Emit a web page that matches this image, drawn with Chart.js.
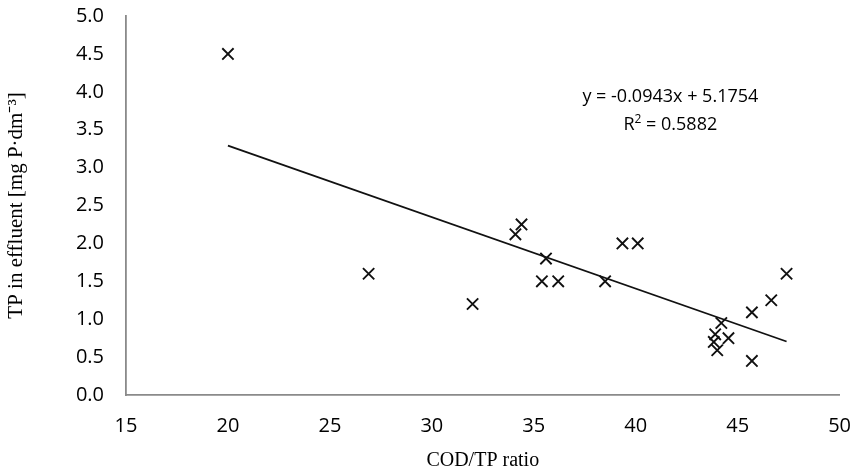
<!DOCTYPE html>
<html>
<head>
<meta charset="utf-8">
<script src="https://cdn.jsdelivr.net/npm/chart.js@4/dist/chart.umd.min.js"></script>
<style>
  html, body { margin: 0; padding: 0; background: #fff; }
  #wrap { width: 863px; height: 474px; position: relative; }
</style>
</head>
<body>
<div id="wrap"><canvas id="c" width="863" height="474"></canvas></div>
<script>
// COD/TP ratio against total phosphorus in effluent
const codTpRatio = [20.0, 26.9, 32.0, 34.1, 34.4, 35.6, 35.4, 36.2, 38.5, 39.35, 40.1,
                    44.2, 44.55, 43.9, 43.83, 44.0, 45.7, 45.7, 46.65, 47.4];
const tpEffluent = [4.50, 1.60, 1.20, 2.12, 2.25, 1.80, 1.50, 1.50, 1.50, 2.00, 2.00,
                    0.95, 0.75, 0.80, 0.70, 0.59, 0.45, 1.09, 1.25, 1.60];

// Linear trend y = a*x + b
const trendSlope = -0.0943;
const trendIntercept = 5.1754;
const trendR2 = 0.5882;
const trendRange = [20.0, 47.4];

const xTicks = [15, 20, 25, 30, 35, 40, 45, 50];
const yTicks = [0, 0.5, 1, 1.5, 2, 2.5, 3, 3.5, 4, 4.5, 5];

const xTitle = 'COD/TP ratio';
const yTitle = 'TP in effluent [mg P\u00B7dm\u207B\u00B3]';
const eqLabel = 'y = ' + trendSlope.toFixed(4) + 'x + ' + trendIntercept.toFixed(4);
const r2Label = '= ' + trendR2.toFixed(4);
const eqAnchor = { x: 41.7, y: 3.93 };
const r2Anchor = { x: 41.7, y: 3.56 };

const points = codTpRatio.map((x, i) => ({ x, y: tpEffluent[i] }));
const trendPoints = trendRange.map(x => ({ x, y: trendSlope * x + trendIntercept }));

const axisGrey = '#8a8a8a';
const tickFont = { family: 'Open Sans', size: 20 };

// Equation and R² written next to the trend line
const equationLabel = {
  id: 'equationLabel',
  afterDatasetsDraw(chart) {
    const { ctx, scales } = chart;
    ctx.save();
    ctx.fillStyle = '#000';
    ctx.font = '18px "Open Sans"';
    ctx.textAlign = 'center';
    ctx.textBaseline = 'middle';
    ctx.fillText(eqLabel, scales.x.getPixelForValue(eqAnchor.x), scales.y.getPixelForValue(eqAnchor.y));
    // "R²" with a raised small 2, then the value
    const cx = scales.x.getPixelForValue(r2Anchor.x);
    const cy = scales.y.getPixelForValue(r2Anchor.y);
    const rW = ctx.measureText('R').width;
    ctx.font = '12px "Open Sans"';
    const sW = ctx.measureText('2').width;
    ctx.font = '18px "Open Sans"';
    const vW = ctx.measureText(' ' + r2Label).width;
    const total = rW + sW + vW;
    const x0 = cx - total / 2;
    ctx.textAlign = 'left';
    ctx.fillText('R', x0, cy);
    ctx.font = '12px "Open Sans"';
    ctx.fillText('2', x0 + rW, cy - 6);
    ctx.font = '18px "Open Sans"';
    ctx.fillText(' ' + r2Label, x0 + rW + sW, cy);
    ctx.restore();
  }
};

new Chart(document.getElementById('c'), {
  type: 'scatter',
  data: {
    datasets: [
      {
        label: 'TP',
        data: points,
        pointStyle: 'crossRot',
        pointRadius: 8,
        pointHoverRadius: 8,
        pointBorderWidth: 1.9,
        borderColor: '#111',
        backgroundColor: '#111',
        showLine: false
      },
      {
        label: 'Linear',
        type: 'line',
        data: trendPoints,
        borderColor: '#111',
        borderWidth: 1.8,
        pointRadius: 0,
        fill: false
      }
    ]
  },
  options: {
    responsive: false,
    animation: false,
    events: [],
    layout: { padding: { left: 0, right: 6, top: 16, bottom: 0 } },
    plugins: { legend: { display: false }, tooltip: { enabled: false } },
    scales: {
      x: {
        type: 'linear',
        min: 15, max: 50,
        afterBuildTicks(scale) { scale.ticks = xTicks.map(v => ({ value: v })); },
        afterFit(scale) { scale.height = 79; },
        grid: { display: false, drawTicks: true, tickLength: 7, tickColor: axisGrey, tickWidth: 1.5 },
        border: { display: true, color: axisGrey, width: 1.8 },
        ticks: { color: '#000', font: tickFont, padding: 12, maxRotation: 0,
                 callback: v => String(v) },
        title: { display: true, text: xTitle, color: '#000',
                 font: { family: 'Liberation Serif', size: 20 },
                 padding: { top: 0, bottom: 1 } }
      },
      y: {
        type: 'linear',
        min: 0, max: 5,
        afterBuildTicks(scale) { scale.ticks = yTicks.map(v => ({ value: v })); },
        afterFit(scale) {
          scale.width = 126;
          scale.paddingTop = 0;
          scale.paddingBottom = 0;
        },
        grid: { display: false, drawTicks: true, tickLength: 7, tickColor: axisGrey, tickWidth: 1.5 },
        border: { display: true, color: axisGrey, width: 1.8 },
        ticks: { color: '#000', font: tickFont, padding: 15,
                 callback: v => Number(v).toFixed(1) },
        title: { display: true, text: yTitle, color: '#000',
                 font: { family: 'Liberation Serif', size: 21 },
                 padding: { top: 4, bottom: 0 } }
      }
    }
  },
  plugins: [equationLabel]
});
</script>
</body>
</html>
